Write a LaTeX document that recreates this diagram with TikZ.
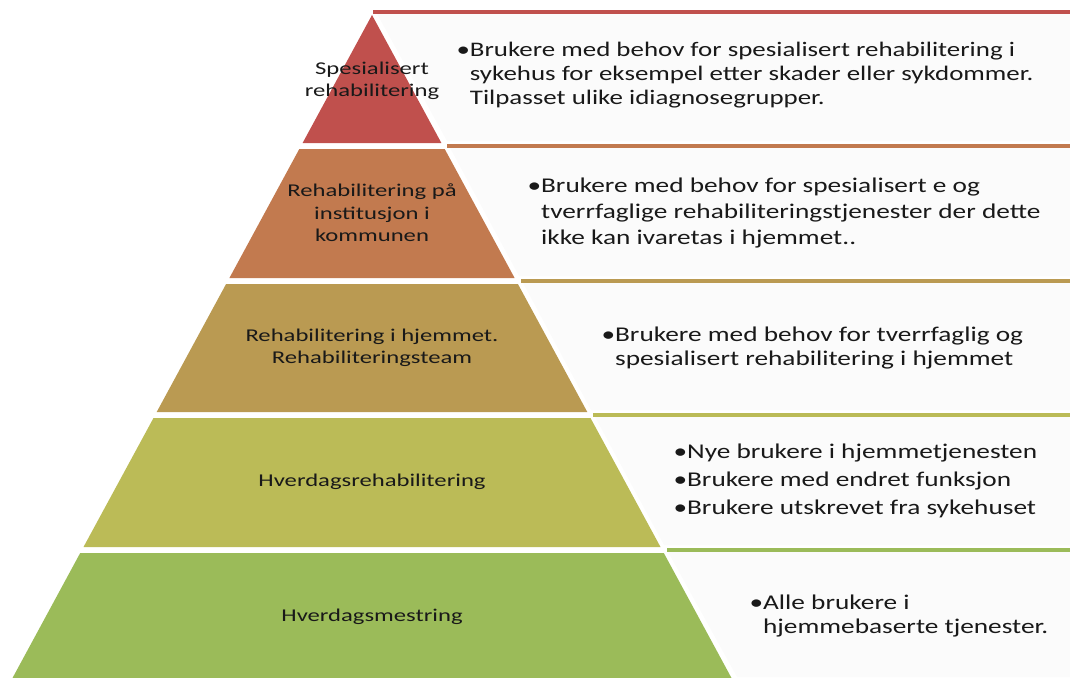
\documentclass[tikz,border=0pt]{standalone}
\usepackage{fontspec}
\setmainfont{Carlito}
\newfontfamily\txtfont[FakeStretch=1.3]{Carlito}
\newfontfamily\labfont[FakeStretch=1.37]{Carlito}
\usetikzlibrary{positioning}

\definecolor{lvlA}{HTML}{C0504D}
\definecolor{lvlB}{HTML}{C27A4F}
\definecolor{lvlC}{HTML}{BA9A52}
\definecolor{lvlD}{HTML}{BBBB57}
\definecolor{lvlE}{HTML}{9BBB59}

\begin{document}
\begin{tikzpicture}[x=1pt, y=-1pt,
  lvl/.style={fill=#1},
  box/.style={fill=black!1.5},
  bar/.style={draw=#1, line width=4pt},
  lab/.style={font=\labfont\fontsize{18}{22.5}\selectfont, align=center, text=black!90},
  txt/.style={font=\txtfont\fontsize{21}{#1}\selectfont, align=left, anchor=west, text=black!90},
  txt/.default=24,
]
\useasboundingbox (0,0) rectangle (1070,677);
\clip (0,0) rectangle (1070,677);

% pyramid levels, top to bottom
\fill[lvl=lvlA] (372,15) -- (441.4,143) -- (302.6,143) -- cycle;
\fill[lvl=lvlB] (299.3,149) -- (444.7,149) -- (514.6,278) -- (229.4,278) -- cycle;
\fill[lvl=lvlC] (226.1,284) -- (517.9,284) -- (587.3,412) -- (156.7,412) -- cycle;
\fill[lvl=lvlD] (153.5,418) -- (590.5,418) -- (660.5,547) -- (83.5,547) -- cycle;
\fill[lvl=lvlE] (80.2,553) -- (663.8,553) -- (738,690) -- (6,690) -- cycle;

% text panels with coloured top rule
\fill[box] (376,12) -- (1070,12) -- (1070,141) -- (447,141) -- cycle;
\fill[box] (449,146) -- (1070,146) -- (1070,276) -- (519,276) -- cycle;
\fill[box] (522,281) -- (1070,281) -- (1070,410) -- (591,410) -- cycle;
\fill[box] (594,415) -- (1070,415) -- (1070,545) -- (664,545) -- cycle;
\fill[box] (667,550) -- (1070,550) -- (1070,677) -- (737,677) -- cycle;
\draw[bar=lvlA] (373,12) -- (1070,12);
\draw[bar=lvlB] (447,146) -- (1070,146);
\draw[bar=lvlC] (521,281) -- (1070,281);
\draw[bar=lvlD] (593,415) -- (1070,415);
\draw[bar=lvlE] (667,550) -- (1070,550);

% level names
\node[lab] (spes) at (372,81) {Spesialisert\\rehabilitering};
\node[lab] (inst) at (372,213) {Rehabilitering på\\institusjon i\\kommunen};
\node[lab] (hjem) at (372,348) {Rehabilitering i hjemmet.\\Rehabiliteringsteam};
\node[lab] (hrehab) at (372,482) {Hverdagsrehabilitering};
\node[lab] (hmest) at (372,617) {Hverdagsmestring};

% who each level is for
\node[txt, font=\txtfont\fontsize{20.7}{24}\selectfont] (spesTxt) at (453,75) {•Brukere med behov for spesialisert rehabilitering i\\
  \hphantom{•}sykehus for eksempel etter skader  eller sykdommer.\\
  \hphantom{•}Tilpasset ulike idiagnosegrupper.};
\node[txt=26] (instTxt) at (524,213) {•Brukere med behov for spesialisert e og\\
  \hphantom{•}tverrfaglige rehabiliteringstjenester der dette\\
  \hphantom{•}ikke kan ivaretas i hjemmet..};
\node[txt] (hjemTxt) at (598,348) {•Brukere med behov for tverrfaglig og\\
  \hphantom{•}spesialisert  rehabilitering i hjemmet};
\node[txt=28] (hrehabTxt) at (670,481) {•Nye brukere i hjemmetjenesten\\
  •Brukere med endret funksjon\\
  •Brukere utskrevet fra sykehuset};
\node[txt] (hmestTxt) at (746,616) {•Alle brukere i\\
  \hphantom{•}hjemmebaserte tjenester.};
\end{tikzpicture}
\end{document}
